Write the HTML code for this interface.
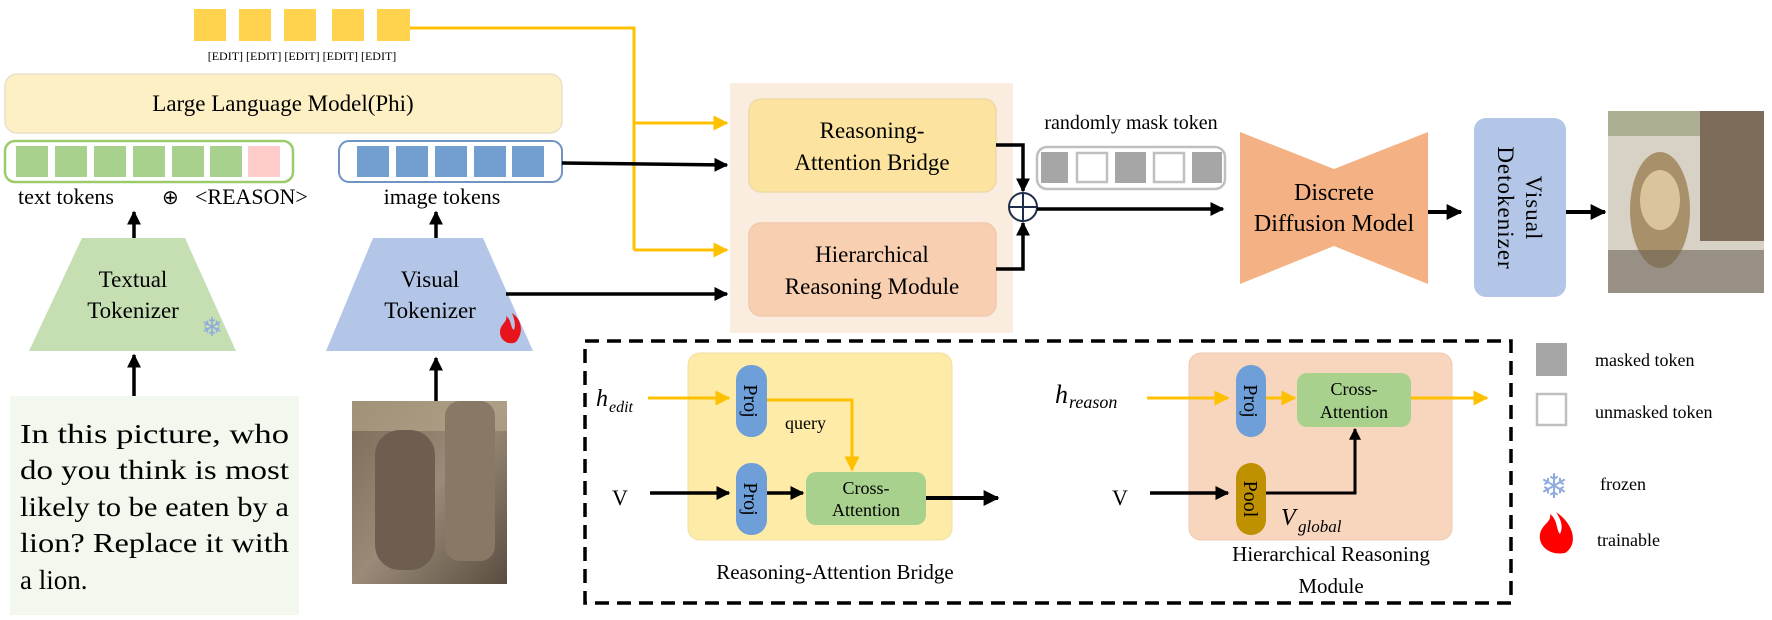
<!DOCTYPE html>
<html><head><meta charset="utf-8"><style>
html,body{margin:0;padding:0;background:#fff;}
svg{display:block;font-family:"Liberation Serif",serif;}
</style></head><body>
<svg width="1772" height="620" viewBox="0 0 1772 620" xmlns="http://www.w3.org/2000/svg">
<defs>
<marker id="ab" viewBox="0 0 10 10" refX="9" refY="5" markerWidth="4" markerHeight="4" orient="auto"><path d="M0,0 L10,5 L0,10 z" fill="#000"/></marker>
<marker id="ay" viewBox="0 0 10 10" refX="9" refY="5" markerWidth="5" markerHeight="5" orient="auto"><path d="M0,0 L10,5 L0,10 z" fill="#FFC000"/></marker>
<linearGradient id="eleph" x1="0" y1="0" x2="1" y2="1"><stop offset="0" stop-color="#7a6a58"/><stop offset=".5" stop-color="#9a8a78"/><stop offset="1" stop-color="#5a4d40"/></linearGradient>
<linearGradient id="lion" x1="0" y1="0" x2="1" y2="1"><stop offset="0" stop-color="#6b5a48"/><stop offset=".5" stop-color="#c9b9a0"/><stop offset="1" stop-color="#5a4d40"/></linearGradient>
</defs>

<g fill="#FFD34E">
<rect x="194" y="9" width="32" height="32"/><rect x="239" y="9" width="32" height="32"/><rect x="284" y="9" width="32" height="32"/><rect x="332" y="9" width="32" height="32"/><rect x="377" y="9" width="33" height="32"/>
</g>
<text x="302" y="60" font-size="12" text-anchor="middle">[EDIT] [EDIT] [EDIT] [EDIT] [EDIT]</text>

<polyline points="410,28 634,28 634,250" fill="none" stroke="#FFC000" stroke-width="3"/>
<line x1="634" y1="123" x2="727" y2="123" stroke="#FFC000" stroke-width="3" marker-end="url(#ay)"/>
<line x1="634" y1="250" x2="727" y2="250" stroke="#FFC000" stroke-width="3" marker-end="url(#ay)"/>

<rect x="5" y="74" width="557" height="59" rx="12" fill="#FDF0C4" stroke="#e8e0c8" stroke-width="1.5"/>
<text x="283" y="111" font-size="23" text-anchor="middle">Large Language Model(Phi)</text>

<rect x="5" y="141" width="288" height="41" rx="10" fill="#fff" stroke="#9BCB6B" stroke-width="2.5"/>
<g fill="#A8D18D">
<rect x="16" y="146" width="32" height="31"/><rect x="55" y="146" width="32" height="31"/><rect x="94" y="146" width="32" height="31"/><rect x="133" y="146" width="32" height="31"/><rect x="172" y="146" width="32" height="31"/><rect x="210" y="146" width="32" height="31"/>
</g>
<rect x="248" y="146" width="32" height="31" fill="#FFCCCC"/>
<text x="18" y="204" font-size="22">text tokens</text>
<text x="162" y="204" font-size="20">⊕</text>
<text x="195" y="204" font-size="22">&lt;REASON&gt;</text>

<rect x="339" y="141" width="223" height="41" rx="10" fill="#fff" stroke="#6F94C2" stroke-width="2"/>
<g fill="#729FCF">
<rect x="357" y="146" width="32" height="31"/><rect x="396" y="146" width="32" height="31"/><rect x="435" y="146" width="32" height="31"/><rect x="474" y="146" width="32" height="31"/><rect x="512" y="146" width="32" height="31"/>
</g>
<text x="442" y="204" font-size="22" text-anchor="middle">image tokens</text>
<line x1="562" y1="163" x2="727" y2="165" stroke="#000" stroke-width="3.5" marker-end="url(#ab)"/>

<line x1="134" y1="240" x2="134" y2="212" stroke="#000" stroke-width="3.5" marker-end="url(#ab)"/>
<line x1="436" y1="240" x2="436" y2="212" stroke="#000" stroke-width="3.5" marker-end="url(#ab)"/>

<polygon points="82,238 185,238 236,351 29,351" fill="#C5DFB3"/>
<text x="133" y="287" font-size="23" text-anchor="middle">Textual</text>
<text x="133" y="318" font-size="23" text-anchor="middle">Tokenizer</text>
<text x="212" y="336" font-size="26" fill="#8FAADC" text-anchor="middle">❄</text>
<polygon points="373,238 483,238 533,351 326,351" fill="#B4C6E7"/>
<text x="430" y="287" font-size="23" text-anchor="middle">Visual</text>
<text x="430" y="318" font-size="23" text-anchor="middle">Tokenizer</text>
<path d="M512,313 C522,320 524,332 516,342 C508,346 500,340 500,332 C500,324 508,322 506,316 C512,320 510,328 514,330 C516,324 514,318 512,313z" fill="#E8141B"/>
<line x1="506" y1="294" x2="727" y2="294" stroke="#000" stroke-width="3.5" marker-end="url(#ab)"/>

<rect x="10" y="396" width="289" height="219" fill="#F2F8EE"/>
<g font-size="27">
<text x="20" y="443" textLength="269" lengthAdjust="spacingAndGlyphs">In this picture, who</text>
<text x="20" y="479" textLength="269" lengthAdjust="spacingAndGlyphs">do you think is most</text>
<text x="20" y="516" textLength="269" lengthAdjust="spacingAndGlyphs">likely to be eaten by a</text>
<text x="20" y="552" textLength="269" lengthAdjust="spacingAndGlyphs">lion? Replace it with</text>
<text x="20" y="589">a lion.</text>
</g>
<line x1="134" y1="396" x2="134" y2="355" stroke="#000" stroke-width="3.5" marker-end="url(#ab)"/>

<rect x="352" y="401" width="155" height="183" fill="url(#eleph)"/>
<rect x="352" y="401" width="155" height="30" fill="#b9ad8f" opacity=".6"/>
<rect x="375" y="430" width="60" height="140" rx="25" fill="#6d5e50"/>
<rect x="445" y="401" width="50" height="160" rx="15" fill="#8a7866"/>
<line x1="436" y1="401" x2="436" y2="358" stroke="#000" stroke-width="3.5" marker-end="url(#ab)"/>

<rect x="730" y="83" width="283" height="250" fill="#FBECE0"/>
<rect x="749" y="99" width="247" height="93" rx="12" fill="#FCE3A0" stroke="#efd9a6" stroke-width="1.5"/>
<text x="872" y="138" font-size="23" text-anchor="middle">Reasoning-</text>
<text x="872" y="170" font-size="23" text-anchor="middle">Attention Bridge</text>
<rect x="749" y="223" width="247" height="93" rx="12" fill="#F8CFB0" stroke="#f0c8ad" stroke-width="1.5"/>
<text x="872" y="262" font-size="23" text-anchor="middle">Hierarchical</text>
<text x="872" y="294" font-size="23" text-anchor="middle">Reasoning Module</text>

<polyline points="996,145 1023,145 1023,191" fill="none" stroke="#000" stroke-width="3.5" marker-end="url(#ab)"/>
<polyline points="996,269 1023,269 1023,223" fill="none" stroke="#000" stroke-width="3.5" marker-end="url(#ab)"/>
<circle cx="1023" cy="207" r="14" fill="#fff" stroke="#1F2D4A" stroke-width="2"/>
<line x1="1009" y1="207" x2="1037" y2="207" stroke="#1F2D4A" stroke-width="2"/>
<line x1="1023" y1="193" x2="1023" y2="221" stroke="#1F2D4A" stroke-width="2"/>
<line x1="1037" y1="209" x2="1223" y2="209" stroke="#000" stroke-width="3.5" marker-end="url(#ab)"/>

<text x="1131" y="129" font-size="20" text-anchor="middle">randomly mask token</text>
<rect x="1037" y="147" width="188" height="42" rx="10" fill="#fff" stroke="#BFBFBF" stroke-width="2.5"/>
<rect x="1041" y="152" width="27" height="31" fill="#A6A6A6"/>
<rect x="1077" y="153" width="30" height="29" fill="#fff" stroke="#BFBFBF" stroke-width="2.5"/>
<rect x="1115" y="152" width="31" height="31" fill="#A6A6A6"/>
<rect x="1154" y="153" width="30" height="29" fill="#fff" stroke="#BFBFBF" stroke-width="2.5"/>
<rect x="1192" y="152" width="30" height="31" fill="#A6A6A6"/>

<polygon points="1240,132 1334,169 1428,132 1428,284 1334,246 1240,284" fill="#F4B183"/>
<text x="1334" y="200" font-size="24" text-anchor="middle">Discrete</text>
<text x="1334" y="231" font-size="24" text-anchor="middle">Diffusion Model</text>
<line x1="1428" y1="212" x2="1461" y2="212" stroke="#000" stroke-width="4" marker-end="url(#ab)"/>

<rect x="1474" y="118" width="92" height="179" rx="12" fill="#B4C6E7"/>
<g transform="translate(1520,208) rotate(90)" font-size="23" text-anchor="middle" style="letter-spacing:1px">
<text x="0" y="-6">Visual</text>
<text x="0" y="22">Detokenizer</text>
</g>
<line x1="1566" y1="212" x2="1605" y2="212" stroke="#000" stroke-width="4" marker-end="url(#ab)"/>

<rect x="1608" y="111" width="156" height="182" fill="#d8d2c6"/>
<rect x="1608" y="111" width="156" height="25" fill="#7d8a5a" opacity=".5"/>
<rect x="1700" y="111" width="64" height="130" fill="#7d6c5a"/>
<ellipse cx="1660" cy="210" rx="30" ry="58" fill="#a8906a"/>
<ellipse cx="1660" cy="200" rx="20" ry="30" fill="#d9c49c"/>
<rect x="1608" y="250" width="156" height="43" fill="#6e6458" opacity=".6"/>

<rect x="585" y="341" width="926" height="262" fill="none" stroke="#000" stroke-width="3.5" stroke-dasharray="14,8"/>

<rect x="688" y="353" width="264" height="187" rx="12" fill="#FEEBA8" stroke="#efdfa0" stroke-width="1"/>
<rect x="736" y="365" width="31" height="72" rx="15" fill="#6F9FD8"/>
<rect x="736" y="463" width="31" height="72" rx="15" fill="#6F9FD8"/>
<text transform="translate(751,401) rotate(90)" font-size="20" text-anchor="middle" y="7">Proj</text>
<text transform="translate(751,499) rotate(90)" font-size="20" text-anchor="middle" y="7">Proj</text>
<text x="596" y="406" font-size="24" font-style="italic">h</text>
<text x="609" y="412" font-size="16" font-style="italic">edit</text>
<line x1="648" y1="398" x2="729" y2="398" stroke="#FFC000" stroke-width="3" marker-end="url(#ay)"/>
<polyline points="767,400 852,400 852,470" fill="none" stroke="#FFC000" stroke-width="3" marker-end="url(#ay)"/>
<text x="785" y="429" font-size="18">query</text>
<text x="612" y="505" font-size="22">V</text>
<line x1="650" y1="493" x2="729" y2="493" stroke="#000" stroke-width="3.5" marker-end="url(#ab)"/>
<line x1="767" y1="493" x2="803" y2="493" stroke="#000" stroke-width="3.5" marker-end="url(#ab)"/>
<rect x="806" y="472" width="120" height="53" rx="10" fill="#A9D18E"/>
<text x="866" y="494" font-size="18" text-anchor="middle">Cross-</text>
<text x="866" y="516" font-size="18" text-anchor="middle">Attention</text>
<line x1="926" y1="498" x2="998" y2="498" stroke="#000" stroke-width="4" marker-end="url(#ab)"/>
<text x="835" y="579" font-size="21" text-anchor="middle">Reasoning-Attention Bridge</text>

<rect x="1189" y="353" width="263" height="187" rx="12" fill="#F8D5BD" stroke="#efc9b0" stroke-width="1"/>
<rect x="1236" y="365" width="30" height="72" rx="15" fill="#6F9FD8"/>
<rect x="1236" y="463" width="30" height="72" rx="15" fill="#BF9000"/>
<text transform="translate(1251,401) rotate(90)" font-size="20" text-anchor="middle" y="7">Proj</text>
<text transform="translate(1251,499) rotate(90)" font-size="20" text-anchor="middle" y="7">Pool</text>
<text x="1055" y="403" font-size="26" font-style="italic">h</text>
<text x="1069" y="408" font-size="18" font-style="italic">reason</text>
<line x1="1147" y1="398" x2="1228" y2="398" stroke="#FFC000" stroke-width="3" marker-end="url(#ay)"/>
<line x1="1266" y1="398" x2="1295" y2="398" stroke="#FFC000" stroke-width="3" marker-end="url(#ay)"/>
<rect x="1297" y="373" width="114" height="54" rx="10" fill="#A9D18E"/>
<text x="1354" y="395" font-size="18" text-anchor="middle">Cross-</text>
<text x="1354" y="418" font-size="18" text-anchor="middle">Attention</text>
<line x1="1411" y1="398" x2="1487" y2="398" stroke="#FFC000" stroke-width="3" marker-end="url(#ay)"/>
<text x="1112" y="505" font-size="22">V</text>
<line x1="1150" y1="493" x2="1228" y2="493" stroke="#000" stroke-width="3.5" marker-end="url(#ab)"/>
<polyline points="1266,493 1355,493 1355,429" fill="none" stroke="#000" stroke-width="3" marker-end="url(#ab)"/>
<text x="1281" y="525" font-size="24" font-style="italic">V</text>
<text x="1298" y="532" font-size="17" font-style="italic">global</text>
<text x="1331" y="561" font-size="21" text-anchor="middle">Hierarchical Reasoning</text>
<text x="1331" y="593" font-size="21" text-anchor="middle">Module</text>

<rect x="1536" y="343" width="31" height="33" fill="#A6A6A6"/>
<rect x="1537" y="394" width="29" height="31" fill="#fff" stroke="#BFBFBF" stroke-width="2.5"/>
<text x="1595" y="366" font-size="18">masked token</text>
<text x="1595" y="418" font-size="18">unmasked token</text>
<text x="1554" y="498" font-size="34" fill="#8FAADC" text-anchor="middle">❄</text>
<text x="1600" y="490" font-size="18">frozen</text>
<path d="M1556,512 C1575,525 1578,545 1565,553 C1550,556 1538,546 1540,534 C1542,524 1552,522 1550,514 C1558,520 1556,530 1560,534 C1564,526 1560,518 1556,512z" fill="#FF0000"/>
<text x="1597" y="546" font-size="18">trainable</text>
</svg>
</body></html>
